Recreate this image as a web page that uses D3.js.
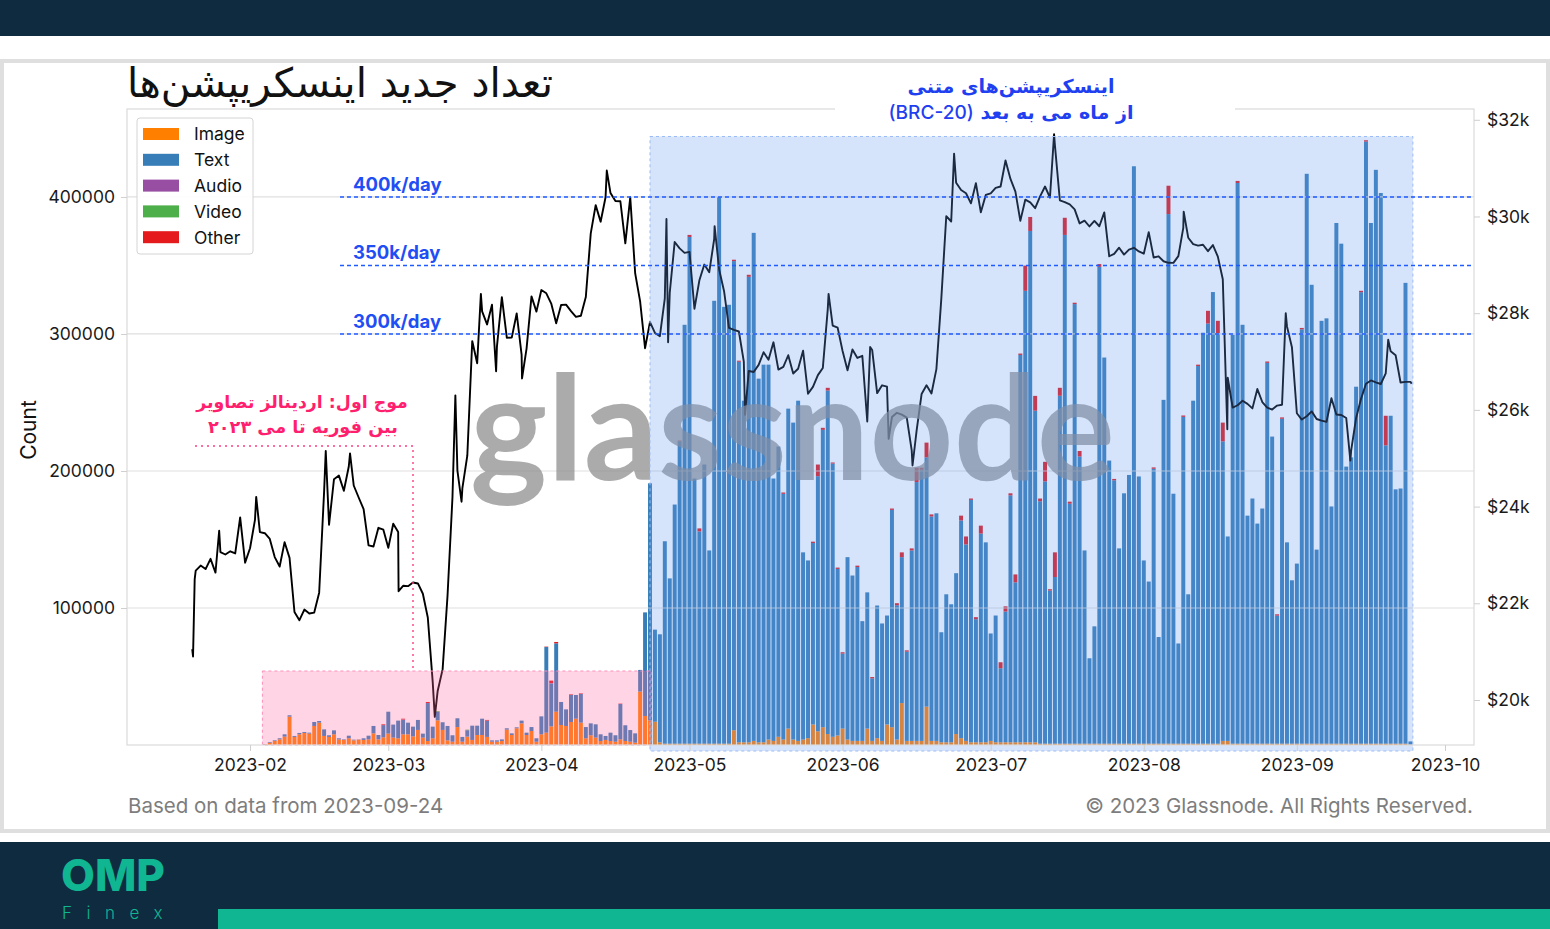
<!DOCTYPE html>
<html><head><meta charset="utf-8">
<script src="https://cdn.jsdelivr.net/npm/d3@7/dist/d3.min.js"></script>
<style>body{margin:0;background:#fff;}svg{display:block;}</style>
</head><body>
<svg id="c" width="1550" height="929"></svg>
<script>
// ---------------- DATA (values in thousands of inscriptions per day) ----------------
const firstBarDay = "2023-02-04";
const imageK = [
 // Feb 4-28
 0.5,1.7,2.9,4.1,6.1,20.7,5.9,7.8,8.8,8.3,13.9,16.3,6.6,5.9,7.8,4.1,3.7,4.9,3.4,3.9,3.7,4.1,8.5,4.1,5.6,
 // Mar
 8.3,5.4,4.9,7.8,7.8,6.3,11.0,5.4,2.9,4.9,18.0,11.0,3.4,2.4,13.1,2.4,6.1,3.7,7.3,7.3,5.9,2.4,2.4,2.9,11.2,7.3,12.2,15.8,7.3,10.2,2.4,
 // Apr
 7.8,9.0,13.6,24.3,14.6,13.9,16.8,19.2,16.3,4.9,7.1,5.4,2.9,3.7,2.9,2.4,4.1,2.9,2.4,1.7,39.0,21.2,18,17,2,1,1,1,1,1,
 // May
 1,1,1,1,1,1,1,1,1,10.8,2,2,2,3,2,2,4,3,6,4,12,4,3,4,5,15,10,13,8,6,7,
 // Jun
 12,4,3,3,3,12,3,5,3,15,13,4,30.6,3,3,3,3,28,3,3,2,2,2,8,5,3,2,2,2,2,
 // Jul
 3,2,2,2,2,2,2,2,2,2,1,1,1,1,1,1,1,1,1,1,1,1,1,1,1,1,1,1,1,1,1,
 // Aug
 1,1,1,1,1,1,1,1,1,1,1,1,1,1,1,1,3,3,1,1,1,1,1,1,1,1,1,1,1,1,1,
 // Sep 1-24
 1,1,1,1,1,1,1,1,1,1,1,1,1,1,1,1,1,1,1,1,1,1,1,0.3
];
const textK = [
 // Feb 4-28
 0.2,0.5,0.5,0.8,1.7,1.0,0.7,1.0,0.7,0.7,2.9,1.2,4.8,1.2,2.9,0.8,0.4,1.9,0.5,0.2,1.2,2.7,5.4,3.2,8.9,
 // Mar
 16.0,9.5,12.9,10.6,8.5,7.1,7.3,2.9,27.7,8.5,6.3,5.6,10.5,4.7,6.4,3.5,4.7,10.4,6.8,11.9,11.9,1.0,1.0,1.2,1.0,1.2,0.7,2.0,1.7,2.9,2.5,
 // Apr
 13.1,62.5,31.3,49.9,16.8,12.1,19.8,17.3,21.0,8.2,8.7,9.7,4.9,2.9,6.1,4.7,25.8,11.5,8.5,6.8,15.8,75.6,173.0,67.2,78.8,147.7,120.6,174.5,220.7,305.7,
 // May
 369.8,193.5,154.9,203.7,141.0,323.2,399.0,318.8,320.3,342.4,277.7,249.3,339.7,370.8,265.4,275.6,273.6,191.5,211.8,179.3,233.5,231.3,248.3,136.6,129.7,132.4,186.2,217.0,250.7,199.4,121.5,
 // Jun
 54.7,133.1,120.7,126.9,87.4,99.4,45.6,96.8,85.7,79.5,158.6,98.0,106.5,65.1,139.0,188.9,197.9,181.9,163.8,166.1,80.3,108.0,100.7,117.4,158.9,143.4,176.9,89.8,152.3,145.9,
 // Jul
 78.4,92.5,54.0,95.4,180.2,116.7,282.7,329.5,373.2,242.0,176.9,191.4,111.7,121.6,253.9,371.3,175.1,320.8,209.6,141.0,62.3,85.6,348.0,281.8,206.6,192.2,142.5,182.7,196.1,421.4,195.0,
 // Aug
 133.7,118.3,200.6,77.8,250.9,386.5,182.4,73.1,238.5,109.0,250.3,275.6,299.9,306.6,329.6,299.3,218.6,149.2,298.4,409.2,305.7,166.4,178.9,160.6,171.6,277.9,224.1,93.4,237.1,146.9,119.2,
 // Sep 1-24
 131.4,302.4,415.9,334.9,141.6,308.6,310.4,173.1,380.0,364.9,202.2,208.9,260.5,329.5,439.4,380.0,418.8,401.9,217.7,239.3,185.6,186.2,336.3,2.3
];
const otherK = [
 // Feb 4-28
 0,0,0,0,0,0,0,0,0,0,0,0,0,0,0,0,0,0,0,0,0,0,0,0,0.6,
 // Mar
 0,0,0,0.6,0,0,0,0,0.8,0,0,0,0,0,0,0,0,0,0,0,0.5,0,0,0,0,0,0,0,0,0,0,
 // Apr
 0,0.3,1.8,1.0,0,0,0.4,0,0.4,0,0,0,0,0,0,0,0.3,0,0,0,0,0,0,0,0,0,0,0,0.5,0,
 // May
 1.5,0,2.2,0,0,0,0,0,0,1.0,0.8,0,1.5,0,0,0,0,0,0,1,0,0,0,0,0,1,8.5,1.5,2,0.8,1,
 // Jun
 1,0,0,1,0,0,1,0,0,0,1,1.5,3.5,1,1.5,10.5,1.5,10.8,1.5,0,0,0,0,0,3.5,5.8,1,1.5,5.8,0,
 // Jul
 0,0,4.4,3.8,1.5,5.8,1,18.4,10.2,10.8,2,14.3,1,18,5.8,12.5,1.5,1,4,0,0,0,2,0,0,1,0,0,0,0,0,
 // Aug
 0,0,1,0,0,20.7,0,0,1,0,0,1,0,9.3,0,9.3,13.7,0,0,1.5,0,0,0,0,0,1,0,1,1,0,0,
 // Sep 1-24
 0,1,0,0,0,0,0,0,0,0,0,0,0,1,1,0,0,0,21.6,0,0,0,0,0
];
const audioK = [["2023-03-04",0.2],["2023-04-03",0.3]];
const videoK = [["2023-03-11",0.5],["2023-03-17",0.4]];

// BTC daily closes starting 2023-01-20 (plotted at the end of each day)
const btcFirstDay = "2023-01-20";
const btcClose = [
 22677,22780,22707,22919,22634,23060,23009,23075,23031,23775,22840,23139,
 23724,23471,23449,23331,22955,22760,23264,22939,21819,21651,21870,21788,21808,22220,24307,23623,24565,24641,24327,24829,24436,24188,23947,23198,23175,23561,23522,23147,
 23646,23475,22362,22354,22429,22410,22197,21705,20363,20187,20633,22163,24197,24746,24375,25052,27423,26965,28038,27767,28175,27307,28333,27493,27494,27994,27139,27268,28348,28033,28478,
 28411,28199,27790,28168,28177,28044,27925,27947,28333,29652,30235,29892,30399,30485,30318,30315,29445,30397,28822,28245,27276,27817,27591,27525,28307,28422,29473,29340,29248,29268,
 28091,28680,29006,28847,29534,28904,28454,27695,27654,27621,27000,26804,26784,26931,27192,27036,27398,26833,26890,27130,26753,26851,27225,26334,26476,26719,26868,28085,27745,27702,27219,
 26819,27249,27075,27119,25760,27238,26346,26508,26480,25851,25940,25903,25841,25163,25575,26328,26510,26340,26844,28307,30006,29896,30696,30547,30480,30271,30689,30086,30446,30477,
 30591,30620,31157,30777,30514,29909,30347,30292,30171,30415,30620,30392,31476,30335,30297,30249,30146,29857,29913,29793,29909,29798,30084,29177,29228,29354,29212,29315,29352,29276,29230,
 29676,29152,29176,29074,29042,29041,29180,29765,29561,29429,29397,29416,29283,29408,29170,28701,26664,26049,26096,26189,26124,26031,26431,26163,26047,26008,26089,26106,27727,27297,25931,
 25800,25869,25969,25812,25779,25753,26240,25905,25895,25832,25162,25833,26228,26539,26608,26568,26535,26754,27211,27132,26567,26580,26580
];
// intraday extremes visible on the hourly line
const btcIntraday = [
 ["2023-01-20T07:00",21050],["2023-01-20T11:00",20900],["2023-01-20T19:00",22500],
 ["2023-01-25T18:00",23500],["2023-02-02T06:00",24200],["2023-02-16T08:00",25150],["2023-02-21T06:00",25100],
 ["2023-03-03T02:00",22250],["2023-03-10T10:00",19650],["2023-03-14T14:00",26300],["2023-03-15T20:00",24100],
 ["2023-03-19T18:00",28400],["2023-03-22T20:00",26800],["2023-03-28T02:00",26650],["2023-04-14T06:00",30950],
 ["2023-04-26T08:00",29950],["2023-04-26T16:00",27400],["2023-05-06T02:00",29800],["2023-05-12T06:00",25900],
 ["2023-05-29T04:00",28400],["2023-06-06T14:00",27300],["2023-06-10T08:00",25400],["2023-06-15T04:00",24850],
 ["2023-06-23T14:00",31300],["2023-07-13T20:00",31700],["2023-08-09T02:00",30100],["2023-08-17T22:00",25600],
 ["2023-08-29T18:00",28000],["2023-09-11T20:00",24950],["2023-09-19T12:00",27450],
 ["2023-09-24T06:00",26540]
];
const countTicks = [100000,200000,300000,400000];
const priceTicks = [20000,22000,24000,26000,28000,30000,32000];
const rateLines = [[400000,"400k/day"],[350000,"350k/day"],[300000,"300k/day"]];
const seriesNames = ["Image","Text","Audio","Video","Other"];
const seriesColors = ["#ff7f00","#377eb8","#984ea3","#4daf4a","#e41a1c"];
const pinkSpan = ["2023-02-03T12:00","2023-04-23T06:00"];
const blueSpan = ["2023-04-23T00:00","2023-09-24T12:00"];

// ---------------- CHART ----------------
const svg = d3.select("#c");
const P = {l:127, r:1474, t:109, b:745};
const parse = s => new Date(s.length>10 ? s+":00Z" : s+"T00:00:00Z");
const x = d3.scaleUtc().domain([new Date(Date.UTC(2023,0,7,2)), new Date(Date.UTC(2023,9,6,21))]).range([P.l,P.r]);
const yL = d3.scaleLinear().domain([0,464200]).range([P.b,P.t]);
const yR = d3.scaleLinear().domain([19069,32223]).range([P.b,P.t]);
const color = d3.scaleOrdinal().domain(seriesNames).range(seriesColors);
const LAT = "Inter, 'DejaVu Sans', sans-serif";
const FA = "'DejaVu Sans', sans-serif";

// page bands
svg.append("rect").attr("x",0).attr("y",0).attr("width",1550).attr("height",36).attr("fill","#0f2b40");
svg.append("rect").attr("x",2).attr("y",61).attr("width",1546).attr("height",770).attr("fill","#fff").attr("stroke","#dfdfdf").attr("stroke-width",4);
svg.append("rect").attr("x",0).attr("y",842).attr("width",1550).attr("height",87).attr("fill","#0f2b40");
svg.append("rect").attr("x",218).attr("y",909).attr("width",1332).attr("height",20).attr("fill","#10b592");

// bars
const day0 = parse(firstBarDay);
const sparse = arr => new Map(arr.map(([d,v])=>[d,v]));
const aMap = sparse(audioK), vMap = sparse(videoK);
const rows = imageK.map((v,i)=>{
  const d = d3.utcDay.offset(day0,i);
  const key = d3.utcFormat("%Y-%m-%d")(d);
  return {date:d, Image:v*1000, Text:textK[i]*1000, Audio:(aMap.get(key)||0)*1000, Video:(vMap.get(key)||0)*1000, Other:otherK[i]*1000};
});
const stacked = d3.stack().keys(seriesNames)(rows);
const bw = (x(d3.utcDay.offset(day0,1)) - x(day0))*0.8;
const gBars = svg.append("g");
stacked.forEach(layer=>{
  gBars.selectAll(null).data(layer).join("rect")
   .attr("x",d=>x(d.data.date)-bw/2).attr("width",bw)
   .attr("y",d=>yL(d[1])).attr("height",d=>Math.max(0,yL(d[0])-yL(d[1])))
   .attr("fill",color(layer.key));
});

// grid (drawn over bars, like the reference)
svg.append("g").selectAll("line").data(countTicks).join("line")
  .attr("x1",P.l).attr("x2",P.r).attr("y1",d=>yL(d)).attr("y2",d=>yL(d))
  .attr("stroke","#d9d9d9").attr("stroke-opacity",0.85).attr("stroke-width",1.2);

// price line
const bt0 = parse(btcFirstDay);
const pts = btcClose.map((p,i)=>({t:d3.utcDay.offset(bt0,i+1), p}))
  .concat(btcIntraday.map(([s,p])=>({t:parse(s),p})))
  .sort((a,b)=>a.t-b.t);
svg.append("path").datum(pts)
  .attr("d",d3.line().x(d=>x(d.t)).y(d=>yR(d.p)))
  .attr("fill","none").attr("stroke","#000").attr("stroke-width",1.9).attr("stroke-linejoin","round");

// watermark
svg.append("text").attr("x",470).attr("y",480).attr("font-family","Lato, sans-serif").attr("font-weight",700)
  .attr("font-size",146).attr("fill","#8a8a8a").attr("fill-opacity",0.72)
  .attr("textLength",645).attr("lengthAdjust","spacingAndGlyphs").text("glassnode");

// overlays
svg.append("rect").attr("x",x(parse(pinkSpan[0]))).attr("y",671)
  .attr("width",x(parse(pinkSpan[1]))-x(parse(pinkSpan[0]))).attr("height",P.b-671)
  .attr("fill","rgb(255,105,160)").attr("fill-opacity",0.28)
  .attr("stroke","#ff8db8").attr("stroke-dasharray","3,3").attr("stroke-width",1);
svg.append("rect").attr("x",x(parse(blueSpan[0]))).attr("y",136.5)
  .attr("width",x(parse(blueSpan[1]))-x(parse(blueSpan[0]))).attr("height",751-136.5)
  .attr("fill","rgb(100,150,240)").attr("fill-opacity",0.27)
  .attr("stroke","#9bbcf5").attr("stroke-dasharray","3,3").attr("stroke-width",1);

// spines
svg.append("rect").attr("x",P.l).attr("y",P.t).attr("width",P.r-P.l).attr("height",P.b-P.t)
  .attr("fill","none").attr("stroke","#dadada").attr("stroke-width",1.2);

// axes
const tickFont = 17.5;
const xa = svg.append("g").attr("transform",`translate(0,${P.b})`)
  .call(d3.axisBottom(x).ticks(d3.utcMonth.every(1)).tickFormat(d3.utcFormat("%Y-%m")).tickSize(6).tickPadding(5));
const yla = svg.append("g").attr("transform",`translate(${P.l},0)`)
  .call(d3.axisLeft(yL).tickValues(countTicks).tickFormat(d3.format("d")).tickSize(6).tickPadding(6));
const yra = svg.append("g").attr("transform",`translate(${P.r},0)`)
  .call(d3.axisRight(yR).tickValues(priceTicks).tickFormat(d=>"$"+(d/1000)+"k").tickSize(6).tickPadding(7));
[xa,yla,yra].forEach(g=>{
  g.select(".domain").remove();
  g.selectAll(".tick line").attr("stroke","#cfcfcf");
  g.selectAll(".tick text").attr("font-family",LAT).attr("font-size",tickFont).attr("fill","#1a1a1a");
});
xa.selectAll(".tick text").attr("dy","0.85em");
svg.append("text").attr("transform","translate(36,430) rotate(-90)").attr("text-anchor","middle")
  .attr("font-family",LAT).attr("font-size",21).attr("fill","#111").text("Count");

// rate lines
rateLines.forEach(([v,lab])=>{
  svg.append("line").attr("x1",340).attr("x2",P.r).attr("y1",yL(v)).attr("y2",yL(v))
    .attr("stroke","#1f5bff").attr("stroke-width",1.4).attr("stroke-dasharray","4,3");
  svg.append("text").attr("x",353).attr("y",yL(v)-6).attr("font-family",LAT).attr("font-weight",700)
    .attr("font-size",18.5).attr("fill","#1f4ef5").text(lab);
});

// fitting helper for Persian strings
function fit(sel, w){ const cw = sel.node().getComputedTextLength(); sel.attr("font-size", parseFloat(sel.attr("font-size"))*w/cw); return sel; }

// pink annotation
svg.append("path").attr("d","M195,446 H413 V671").attr("fill","none")
  .attr("stroke","#ff3d85").attr("stroke-width",1.4).attr("stroke-dasharray","2,4");
fit(svg.append("text").attr("x",302).attr("y",408).attr("text-anchor","middle").attr("direction","rtl")
  .attr("font-family",FA).attr("font-weight",700).attr("font-size",20).attr("fill","#ff1f6e")
  .text("موج اول: اردینالز تصاویر"),212);
fit(svg.append("text").attr("x",303).attr("y",433).attr("text-anchor","middle").attr("direction","rtl")
  .attr("font-family",FA).attr("font-weight",700).attr("font-size",20).attr("fill","#ff1f6e")
  .text("بین فوریه تا می ۲۰۲۳"),190);

// blue annotation with white box
svg.append("rect").attr("x",835).attr("y",66).attr("width",400).attr("height",62).attr("fill","#fff");
fit(svg.append("text").attr("x",1011).attr("y",93).attr("text-anchor","middle").attr("direction","rtl")
  .attr("font-family",FA).attr("font-weight",700).attr("font-size",21).attr("fill","#1f3ff0")
  .text("اینسکریپشن\u200cهای متنی"),207);
const l2 = svg.append("text").attr("x",1011).attr("y",119).attr("text-anchor","middle").attr("direction","rtl")
  .attr("font-family",FA).attr("font-weight",700).attr("font-size",21).attr("fill","#1f3ff0");
l2.append("tspan").text("از ماه می به بعد ");
l2.append("tspan").attr("font-family",LAT).attr("font-weight",500).text("(BRC-20)");
fit(l2,245);

// title
fit(svg.append("text").attr("x",340).attr("y",97).attr("text-anchor","middle").attr("direction","rtl")
  .attr("font-family",FA).attr("font-size",36).attr("fill","#111")
  .text("تعداد جدید اینسکریپشن\u200cها"),426);

// legend
const lg = svg.append("g");
lg.append("rect").attr("x",137).attr("y",118).attr("width",116).attr("height",136).attr("rx",3)
  .attr("fill","#fff").attr("fill-opacity",0.9).attr("stroke","#d4d4d4");
seriesNames.forEach((n,i)=>{
  const cy = 134 + i*25.8;
  lg.append("rect").attr("x",143).attr("y",cy-6).attr("width",36).attr("height",12).attr("fill",color(n));
  lg.append("text").attr("x",194).attr("y",cy).attr("dy","0.36em").attr("font-family",LAT)
    .attr("font-size",17.5).attr("fill","#111").text(n);
});

// footers
svg.append("text").attr("x",128).attr("y",813).attr("font-family",LAT).attr("font-size",20.5)
  .attr("fill","#7d7d7d").text("Based on data from 2023-09-24");
svg.append("text").attr("x",1473).attr("y",813).attr("text-anchor","end").attr("font-family",LAT)
  .attr("font-size",20.5).attr("fill","#7d7d7d").text("© 2023 Glassnode. All Rights Reserved.");

// logo
svg.append("text").attr("x",61).attr("y",891).attr("font-family","Inter, sans-serif").attr("fill","#10b592")
  .attr("font-weight",800).attr("font-size",44)
  .attr("textLength",104).attr("lengthAdjust","spacingAndGlyphs").text("OMP");
svg.append("text").attr("x",62).attr("y",919).attr("font-family","Inter, sans-serif").attr("fill","#10b592")
  .attr("font-weight",300).attr("font-size",17).attr("letter-spacing",14.5).text("Finex");
</script>
</body></html>
